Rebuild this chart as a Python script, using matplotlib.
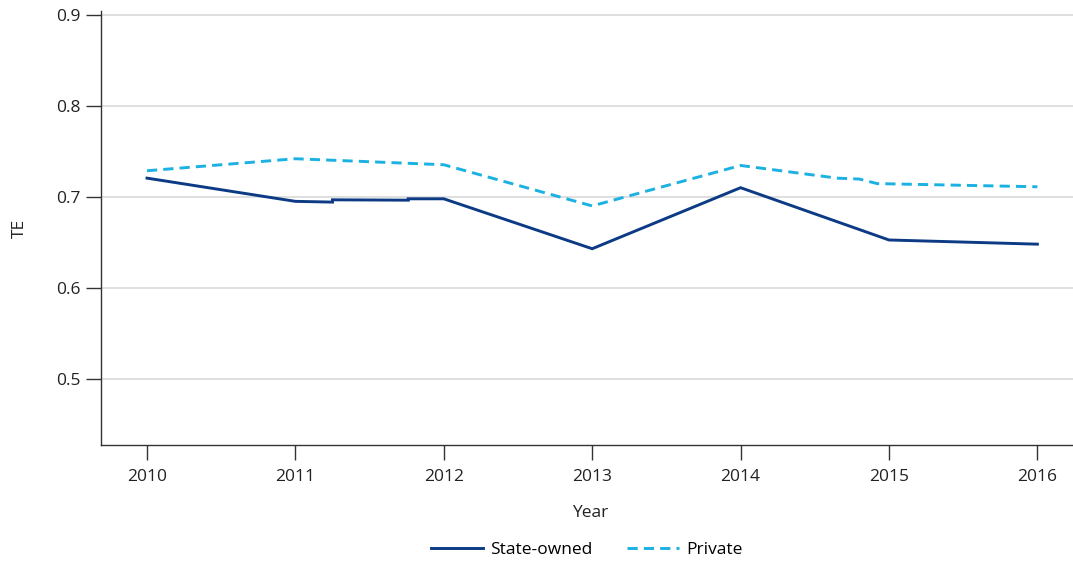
import matplotlib

matplotlib.use("Agg")
import matplotlib.pyplot as plt

# values; the sub-year points reproduce the small steps in the original lines
state_years = [2010, 2011, 2011.25, 2011.25, 2011.76, 2011.76, 2012, 2013, 2014, 2015, 2016]
state_te = [0.7205, 0.695, 0.6942, 0.6967, 0.6963, 0.6978, 0.6978, 0.643, 0.710, 0.6526, 0.648]

private_years = [2010, 2011, 2012, 2013, 2014, 2014.65, 2014.8, 2014.92, 2016]
private_te = [0.7286, 0.7418, 0.7352, 0.690, 0.7344, 0.7205, 0.7195, 0.7145, 0.711]

year_ticks = [2010, 2011, 2012, 2013, 2014, 2015, 2016]
te_ticks = [0.5, 0.6, 0.7, 0.8, 0.9]

FS = 12.5


def main():
    plt.rcParams["font.family"] = ["Open Sans", "DejaVu Sans"]
    plt.rcParams["font.size"] = FS

    fig = plt.figure(figsize=(10.73, 5.62), dpi=100)
    ax = fig.add_axes([101 / 1073, 1 - 445 / 562, 1 - 101 / 1073, (445 - 11) / 562])

    ax.plot(state_years, state_te, color="#0c3a84", lw=2.1, solid_joinstyle="miter", label="State-owned")
    ax.plot(private_years, private_te, color="#1bb1e3", lw=2.1, dashes=(3.5, 2.1), label="Private")

    ax.set_xlim(2009.69, 2016.24)
    ax.set_ylim(0.4275, 0.904)
    ax.set_xticks(year_ticks)
    ax.set_yticks(te_ticks)
    ax.set_yticklabels([f"{t:.1f}" for t in te_ticks])

    ax.grid(axis="y", color="#d9d9d9", lw=1.2)
    ax.set_axisbelow(True)
    for side in ("top", "right"):
        ax.spines[side].set_visible(False)
    for side in ("left", "bottom"):
        ax.spines[side].set_color("#333333")
        ax.spines[side].set_linewidth(1.0)
    ax.tick_params(length=10.5, width=1.0, color="#333333", labelcolor="#222222", labelsize=FS)
    ax.tick_params(axis="y", pad=4)
    ax.tick_params(axis="x", pad=7)

    ax.set_xlabel("Year", fontsize=FS, color="#222222")
    ax.set_ylabel("TE", fontsize=FS, color="#222222")
    ax.xaxis.set_label_coords(0.503, -0.156)
    ax.xaxis.label.set_verticalalignment("center")
    ax.yaxis.set_label_coords(-81 / 972, 0.5)
    ax.yaxis.label.set_verticalalignment("center")

    fig.legend(
        loc="center",
        bbox_to_anchor=(587 / 1073, 1 - 550 / 562),
        ncol=2,
        frameon=False,
        handlelength=3.0,
        handletextpad=0.4,
        columnspacing=2.0,
        fontsize=FS,
    )

    fig.savefig("out.png", dpi=100)


if __name__ == "__main__":
    main()
